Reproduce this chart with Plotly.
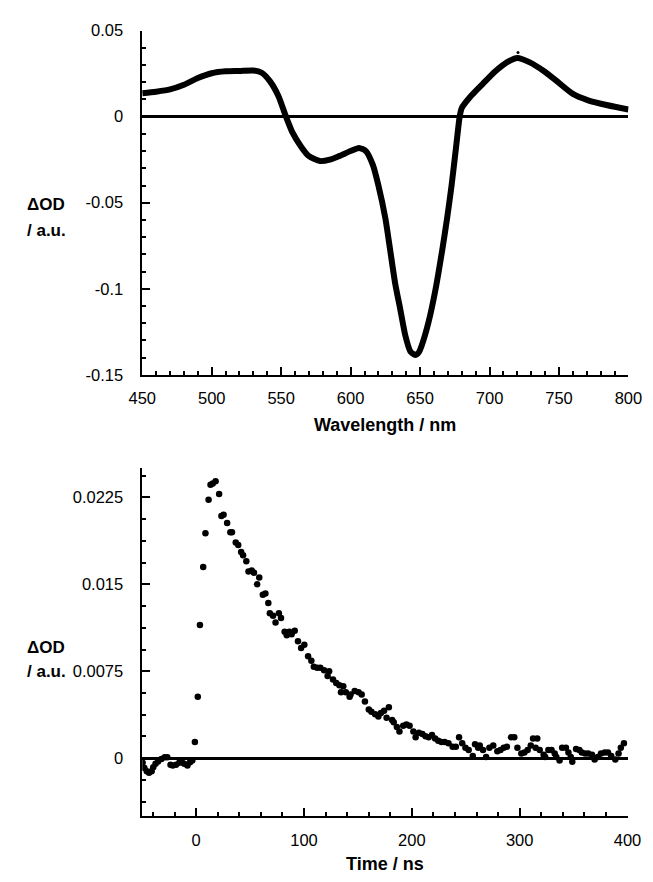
import plotly.graph_objects as go

W, H = 653, 882

# ---------- top panel: transient absorption spectrum ----------
wavelength_nm = [450, 460, 470, 480, 490, 500, 510, 520, 530, 536, 542, 548, 553, 558,
                 564, 570, 578, 585, 592, 600, 606, 611, 616, 620, 625, 628.5, 632,
                 635.7, 639.3, 643, 646.5, 649, 651.3, 656.1, 661.1, 665.9, 669.5,
                 672.7, 676, 678.5, 680, 686, 695, 704, 713, 720, 729, 739, 748, 760,
                 771, 785, 800]
delta_od_spectrum = [0.0136, 0.0145, 0.0158, 0.0185, 0.0224, 0.0252, 0.0263, 0.0265,
                     0.0268, 0.0255, 0.0205, 0.0120, 0.0010, -0.0090, -0.0170, -0.0230,
                     -0.0258, -0.0250, -0.0228, -0.0200, -0.0182, -0.0200, -0.0280,
                     -0.0400, -0.0590, -0.0777, -0.0966, -0.1118, -0.1269, -0.1364,
                     -0.1385, -0.1370, -0.1326, -0.1193, -0.1004, -0.0777, -0.0587,
                     -0.0398, -0.0170, 0.0000, 0.0050, 0.0114, 0.0189, 0.0262, 0.0318,
                     0.0341, 0.0315, 0.0265, 0.0209, 0.0132, 0.0095, 0.0066, 0.0041]
stray_wavelength = [720.5]
stray_value = [0.0372]

top_y_tickvals = [0.05, 0, -0.05, -0.1, -0.15]
top_y_ticktext = ["0.05", "0", "-0.05", "-0.1", "-0.15"]
top_x_tickvals = [450, 500, 550, 600, 650, 700, 750, 800]
top_x_ticktext = ["450", "500", "550", "600", "650", "700", "750", "800"]

# ---------- bottom panel: kinetic trace ----------
time_ns = [-49.7, -48.0, -45.8, -43.7, -41.3, -39.8, -37.7, -35.3, -32.2, -29.2, -26.8,
           -23.8, -21.7, -18.7, -15.7, -13.5, -11.1, -8.1, -5.7, -3.6, -1.2, 1.5, 3.5,
           6.5, 8.6, 11.5, 13.3, 15.4, 18.0, 21.3, 23.4, 25.4, 28.7, 31.7, 33.2, 36.7,
           39.0, 41.7, 43.5, 46.5, 48.5, 51.5, 53.6, 56.5, 58.5, 61.8, 64.2, 66.9, 68.3,
           71.3, 73.6, 76.7, 78.7, 82.0, 84.0, 86.4, 88.5, 91.4, 94.4, 97.3, 100.3,
           103.8, 106.8, 109.1, 112.2, 115.1, 118.6, 121.9, 123.3, 126.9, 129.9, 132.8,
           134.3, 136.4, 138.8, 142.3, 143.2, 147.0, 150.6, 153.5, 156.5, 160.1, 162.5,
           166.0, 169.0, 171.3, 174.3, 176.6, 178.7, 181.7, 183.2, 186.1, 188.5, 192.0,
           195.0, 197.9, 201.4, 203.5, 206.5, 209.8, 212.7, 215.6, 218.7, 221.6, 224.5,
           227.5, 230.5, 234.0, 237.8, 240.8, 243.8, 246.7, 249.7, 252.7, 256.5, 258.6,
           261.5, 263.0, 266.0, 268.9, 271.9, 275.5, 279.3, 282.2, 285.2, 288.2, 292.0,
           295.0, 297.9, 301.5, 304.4, 307.4, 310.3, 312.4, 314.8, 316.3, 318.6, 322.2,
           323.7, 326.6, 329.6, 332.5, 334.0, 337.0, 339.4, 342.9, 345.2, 347.4, 348.8,
           352.3, 355.3, 357.6, 360.7, 363.6, 367.1, 369.5, 372.5, 375.4, 378.9, 381.9,
           384.9, 388.7, 391.7, 393.8, 396.7]
delta_od_kinetic = [-0.0004, -0.00085, -0.00113, -0.00125, -0.00113, -0.00077, -0.00048,
                    -0.00028, -0.00006, 0.00009, 0.00009, -0.00057, -0.00062, -0.00057,
                    -0.0004, -0.00028, -0.00048, -0.00062, -0.00034, -0.0002, 0.0014,
                    0.0053, 0.0115, 0.0165, 0.0194, 0.0223, 0.0236, 0.0237, 0.0239,
                    0.0228, 0.0209, 0.0210, 0.0203, 0.0195, 0.0195, 0.0186, 0.0184,
                    0.0178, 0.0175, 0.0170, 0.0161, 0.0162, 0.0160, 0.0150, 0.0156,
                    0.0141, 0.0142, 0.0134, 0.0125, 0.0123, 0.0117, 0.0125, 0.0121,
                    0.0109, 0.0106, 0.0109, 0.0107, 0.0110, 0.0101, 0.0095, 0.0098,
                    0.0088, 0.0084, 0.0079, 0.0078, 0.0078, 0.0076, 0.0071, 0.0075,
                    0.0068, 0.0065, 0.0063, 0.0057, 0.0062, 0.0057, 0.0053, 0.0055,
                    0.0058, 0.0057, 0.0055, 0.0049, 0.0042, 0.0040, 0.0038, 0.0036,
                    0.0039, 0.0041, 0.0035, 0.0044, 0.0033, 0.0031, 0.0027, 0.0023,
                    0.0028, 0.0029, 0.0028, 0.0023, 0.0018, 0.0022, 0.0021, 0.0019,
                    0.0018, 0.0020, 0.0017, 0.0015, 0.0014, 0.0014, 0.0013, 0.0010,
                    0.0010, 0.0018, 0.0013, 0.0009, 0.0007, 0.0002, 0.0012, 0.0009,
                    0.0011, 0.0007, 0.0001, 0.0009, 0.0011, 0.0006, 0.0007, 0.0009,
                    0.0010, 0.0018, 0.0018, 0.0009, 0.0004, 0.0005, 0.0007, 0.0011,
                    0.0017, 0.0009, 0.0017, 0.0007, 0.0003, 0.0001, 0.0007, 0.0007,
                    0.0004, 0.0001, -0.0002, 0.0009, 0.0009, 0.0005, 0.0001, -0.0003,
                    0.0008, 0.0007, 0.0005, 0.0004, 0.0004, 0.0003, -0.0001, 0.0001,
                    0.0004, 0.0005, 0.0005, 0.0002, -0.0001, 0.0004, 0.0009, 0.0013]

bot_y_tickvals = [0, 0.0075, 0.015, 0.0225]
bot_y_ticktext = ["0", "0.0075", "0.015", "0.0225"]
bot_x_tickvals = [0, 100, 200, 300, 400]
bot_x_ticktext = ["0", "100", "200", "300", "400"]

FONT = "Liberation Sans, Arial, sans-serif"


def px_x(p):
    return p / W


def px_y(p):
    return 1 - p / H


fig = go.Figure()

fig.add_trace(go.Scatter(x=wavelength_nm, y=delta_od_spectrum, mode="lines",
                         line=dict(color="black", width=6, shape="spline", smoothing=0.6),
                         xaxis="x", yaxis="y", showlegend=False, hoverinfo="skip"))
fig.add_trace(go.Scatter(x=stray_wavelength, y=stray_value, mode="markers",
                         marker=dict(color="black", size=3),
                         xaxis="x", yaxis="y", showlegend=False))
fig.add_trace(go.Scatter(x=time_ns, y=delta_od_kinetic, mode="markers",
                         marker=dict(color="black", size=6.5),
                         xaxis="x2", yaxis="y2", showlegend=False))

axis_common = dict(showline=True, linecolor="black", linewidth=1.5, showgrid=False,
                   ticks="inside", tickcolor="black", tickwidth=1.5, ticklen=8,
                   ticklabeloverflow="allow",
                   tickfont=dict(family=FONT, size=16.5, color="black"))

fig.update_layout(
    width=W, height=H, plot_bgcolor="white", paper_bgcolor="white",
    margin=dict(l=0, r=0, t=0, b=0), showlegend=False,
    xaxis=dict(domain=[px_x(134), px_x(642)], range=[450, 800.01], anchor="y",
               tickvals=top_x_tickvals, ticktext=top_x_ticktext, zeroline=False,
               minor=dict(ticks="inside", dtick=10, tick0=450, ticklen=4,
                          tickcolor="black", tickwidth=1.5),
               ticklabelstandoff=8, **axis_common),
    yaxis=dict(domain=[px_y(373.5), px_y(22)], range=[-0.15, 0.05], anchor="x",
               tickvals=top_y_tickvals, ticktext=top_y_ticktext,
               zeroline=True, zerolinecolor="black", zerolinewidth=3,
               minor=dict(ticks="inside", dtick=0.01, tick0=0, ticklen=4,
                          tickcolor="black", tickwidth=1.5),
               ticklabelstandoff=14, **axis_common),
    xaxis2=dict(domain=[px_x(134), px_x(641)], range=[-50, 400.01], anchor="y2",
                tickvals=bot_x_tickvals, ticktext=bot_x_ticktext, zeroline=False,
                minor=dict(ticks="inside", dtick=20, tick0=0, ticklen=4,
                           tickcolor="black", tickwidth=1.5),
                ticklabelstandoff=8, **axis_common),
    yaxis2=dict(domain=[px_y(824), px_y(469)], range=[-0.005, 0.025], anchor="x2",
                tickvals=bot_y_tickvals, ticktext=bot_y_ticktext,
                zeroline=True, zerolinecolor="black", zerolinewidth=3,
                minor=dict(ticks="inside", dtick=0.001875, tick0=0, ticklen=4,
                           tickcolor="black", tickwidth=1.5),
                ticklabelstandoff=14, **axis_common),
)

title_font = dict(family=FONT, size=18, color="black")
annos = [
    dict(text="<b>Wavelength / nm</b>", x=px_x(388), y=px_y(425)),
    dict(text="<b>Time / ns</b>", x=px_x(388), y=px_y(873)),
]
for a in annos:
    fig.add_annotation(xref="paper", yref="paper", xanchor="center", yanchor="middle",
                       showarrow=False, font=title_font, **a)

label_font = dict(family=FONT, size=17, color="black")
for ytxt, txt in [(200, "<b>ΔOD</b>"), (226, "<b>/ a.u.</b>"),
                  (652, "<b>ΔOD</b>"), (676, "<b>/ a.u.</b>")]:
    fig.add_annotation(xref="paper", yref="paper", x=px_x(11), y=px_y(ytxt),
                       xanchor="left", yanchor="middle", showarrow=False,
                       text=txt, font=label_font)

fig.write_html("out.html",
               config={"displayModeBar": False},
               post_script="document.body.style.margin='0';"
                           "document.body.style.padding='0';")
